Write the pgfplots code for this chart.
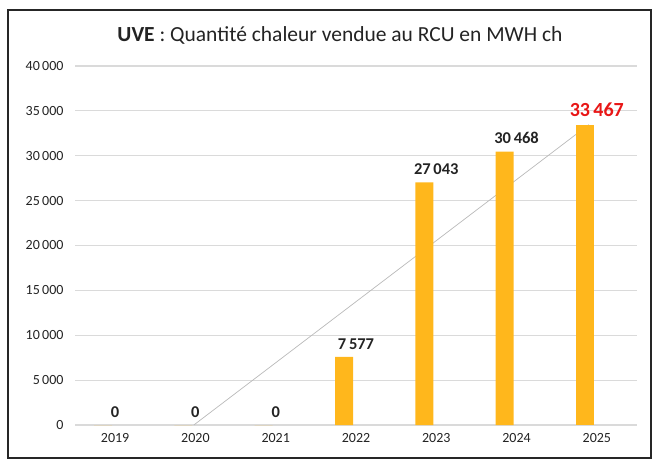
\documentclass[border=0pt]{standalone}
\usepackage{pgfplots}
\pgfplotsset{compat=1.18}
\usepackage{fontspec}
\setmainfont{Carlito}
\definecolor{baror}{RGB}{255,183,28}
\definecolor{gridc}{RGB}{218,218,218}
\definecolor{lblred}{RGB}{232,22,22}
\definecolor{lbltxt}{RGB}{35,35,35}
\begin{document}
\begin{tikzpicture}[x=1pt,y=1pt]
\useasboundingbox (0,0) rectangle (658,463);
\draw[line width=2.2pt, black!85] (8,5) rectangle (651,453);
\node[font=\fontsize{21.5}{25}\selectfont, text=lbltxt, anchor=center] at (340,428) {\textbf{UVE} : Quantité chaleur vendue au RCU en MWH ch};
\begin{axis}[at={(75pt,38pt)}, anchor=south west, scale only axis,
  width=562pt, height=359pt,
  xmin=-0.5, xmax=6.5, ymin=0, ymax=40000,
  xtick={0,1,2,3,4,5,6},
  xticklabels={2019,2020,2021,2022,2023,2024,2025},
  ytick={0,5000,10000,15000,20000,25000,30000,35000,40000},
  axis line style={draw=none}, tick style={draw=none},
  ymajorgrids, grid style={gridc, line width=1.2pt},
  tick label style={font=\fontsize{14}{16}\selectfont, text=lbltxt},
  yticklabel style={xshift=-8pt},
  xticklabel style={yshift=-5pt},
  scaled y ticks=false,
  /pgf/number format/.cd, 1000 sep={\,}, assume math mode=true, /pgfplots/.cd,
  clip=false,
]
\addplot[gray!55, line width=0.7pt, mark=none] coordinates {(0.98,0) (5.9,33467)};
\addplot[ybar, bar width=18pt, bar shift=-12pt, fill=baror, draw=none,
  nodes near coords,
  nodes near coords style={font=\bfseries\fontsize{16.5}{18}\selectfont, text=lbltxt, yshift=4pt}]
  coordinates {(0,0) (1,0) (2,0) (3,7577) (4,27043) (5,30468)};
\addplot[ybar, bar width=18pt, bar shift=-12pt, fill=baror, draw=none,
  nodes near coords,
  nodes near coords style={font=\bfseries\fontsize{20}{22}\selectfont, text=lblred, yshift=4pt}]
  coordinates {(6,33467)};
\end{axis}
\end{tikzpicture}
\end{document}
